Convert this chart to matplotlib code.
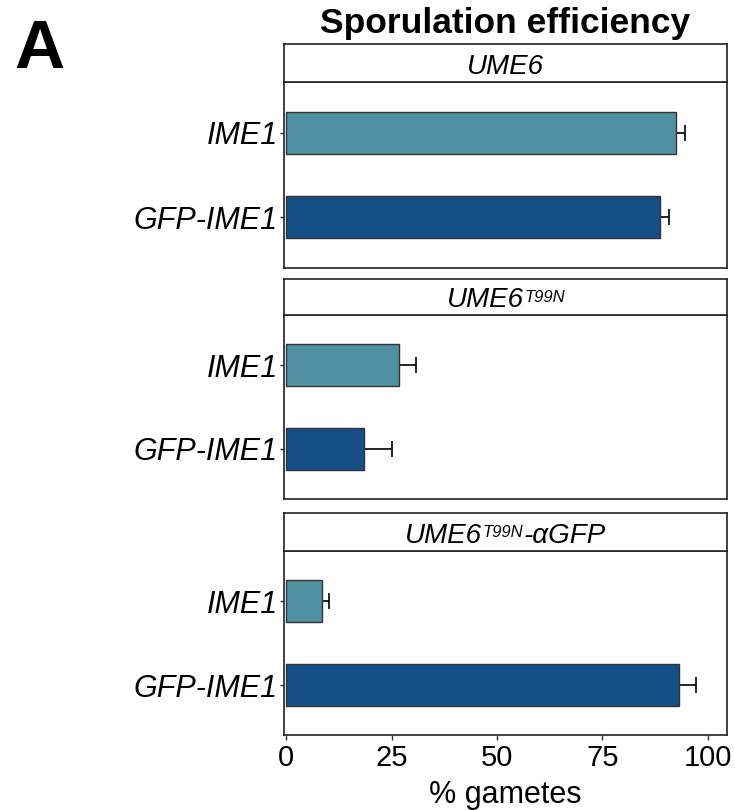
import matplotlib as mpl
mpl.use('Agg')
import matplotlib.pyplot as plt
import numpy as np

plt.rcParams['font.family'] = ['Liberation Sans', 'DejaVu Sans']

# data
strains = ['IME1', 'GFP-IME1']
colors = ['#4F91A0', '#134F86']

strip_main = ['UME6', 'UME6', 'UME6']
strip_sup = ['', 'T99N', 'T99N']
strip_tail = ['', '', '-αGFP']

ume6_mean = [92.4, 88.7]
ume6_err = [2.2, 2.1]
t99n_mean = [26.7, 18.4]
t99n_err = [4.1, 6.8]
t99n_agfp_mean = [8.6, 93.3]
t99n_agfp_err = [1.6, 3.9]

means = [ume6_mean, t99n_mean, t99n_agfp_mean]
errs = [ume6_err, t99n_err, t99n_agfp_err]

xticks = [0, 25, 50, 75, 100]

W, H = 735, 810
fig = plt.figure(figsize=(W / 100, H / 100), dpi=100)

left, right = 284, 727.3
strip_top = [44.3, 279, 513.3]
panel_top = [82.3, 315, 551]
panel_bot = [267.7, 499, 735.3]


def box(top, bot):
    return [left / W, 1 - bot / H, (right - left) / W, (bot - top) / H]


axes = []
strips = []
for i in range(3):
    ax = fig.add_axes(box(panel_top[i], panel_bot[i]))
    y = np.arange(len(strains))
    ax.barh(y, means[i], height=0.5, color=colors, edgecolor='#333333',
            linewidth=1, zorder=2)
    ax.errorbar(means[i], y, xerr=errs[i], fmt='none', ecolor='black',
                elinewidth=1.2, capsize=6, capthick=1.2, zorder=1)
    ax.set_ylim(1.6, -0.6)
    ax.set_xlim(-0.5, 104.65)
    ax.set_yticks(y)
    ax.set_yticklabels(strains, fontsize=22, style='italic')
    ax.set_xticks(xticks)
    ax.tick_params(axis='y', length=3, width=1, pad=1.5, color='#333333')
    ax.tick_params(axis='x', length=3.6, width=1, pad=3, labelsize=21,
                   color='#333333')
    if i < 2:
        ax.tick_params(axis='x', bottom=False, labelbottom=False)
    for s in ax.spines.values():
        s.set_linewidth(1.2)
        s.set_color('#222222')
    axes.append(ax)

    sax = fig.add_axes(box(strip_top[i], panel_top[i]))
    sax.set_xticks([])
    sax.set_yticks([])
    for s in sax.spines.values():
        s.set_linewidth(1.2)
        s.set_color('#222222')
    strips.append(sax)

# strip labels (italic, with superscript)
labels = []
for i, sax in enumerate(strips):
    t1 = sax.text(0.5, 0.22, strip_main[i], transform=sax.transAxes,
                  ha='left', va='baseline', fontsize=20, style='italic')
    last = t1
    if strip_sup[i]:
        t2 = sax.annotate(strip_sup[i], xy=(1, 1), xycoords=t1,
                          xytext=(0.5, -2), textcoords='offset points',
                          ha='left', va='top', fontsize=12, style='italic')
        last = t2
    if strip_tail[i]:
        t3 = sax.annotate(strip_tail[i], xy=(1, 0), xycoords=(last, t1),
                          xytext=(0.5, 0), textcoords='offset points',
                          ha='left', va='bottom', fontsize=20, style='italic')
        last = t3
    labels.append((sax, t1, last))

fig.canvas.draw()
r = fig.canvas.get_renderer()
for sax, t1, last in labels:
    x0 = t1.get_window_extent(r).x0
    x1 = last.get_window_extent(r).x1
    ab = sax.get_window_extent(r)
    shift = (ab.x0 + ab.x1) / 2 - (x0 + x1) / 2
    t1.set_x(0.5 + shift / ab.width)

fig.text(505.5 / W, 1 - 33 / H, 'Sporulation efficiency', ha='center',
         va='baseline', fontsize=25.5, weight='bold')
fig.text(14 / W, 1 - 68 / H, 'A', ha='left', va='baseline', fontsize=50,
         weight='bold')
fig.text(505.5 / W, 1 - 803 / H, '% gametes', ha='center', va='baseline',
         fontsize=22)

fig.savefig('out.png', dpi=100)
plt.close()
